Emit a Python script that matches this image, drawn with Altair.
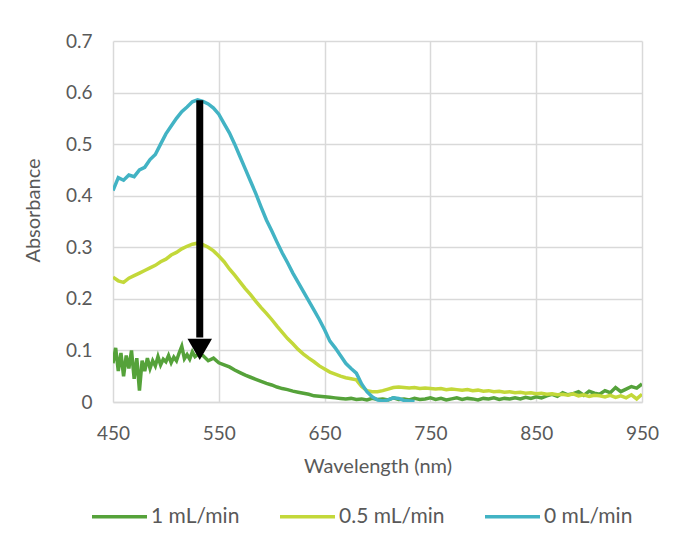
import altair as alt
import pandas as pd

# ---------------- data ----------------
series_names = ["1 mL/min", "0.5 mL/min", "0 mL/min"]
series_colors = ["#55a23a", "#c3d83a", "#42b3c4"]

wavelength = list(range(450, 955, 5))

abs_0 = [
    0.410, 0.435, 0.430, 0.440, 0.437, 0.450, 0.455, 0.470, 0.480, 0.500,
    0.520, 0.535, 0.550, 0.563, 0.572, 0.582, 0.586, 0.583, 0.578, 0.570,
    0.558, 0.540, 0.522, 0.500, 0.476, 0.452, 0.428, 0.404, 0.378, 0.353,
    0.332, 0.310, 0.289, 0.270, 0.250, 0.232, 0.214, 0.196, 0.178, 0.160,
    0.140, 0.118, 0.105, 0.090, 0.075, 0.065, 0.056, 0.035, 0.020, 0.010,
    0.004, 0.002, 0.004, 0.008, 0.007, 0.003, 0.002, 0.001, None, None,
    None, None, None, None, None, None, None, None, None, None,
    None, None, None, None, None, None, None, None, None, None,
    None, None, None, None, None, None, None, None, None, None,
    None, None, None, None, None, None, None, None, None, None,
    None,
]

abs_05 = [
    0.242, 0.235, 0.232, 0.240, 0.245, 0.250, 0.255, 0.260, 0.265, 0.272,
    0.277, 0.285, 0.290, 0.297, 0.302, 0.306, 0.308, 0.305, 0.300, 0.293,
    0.283, 0.272, 0.258, 0.246, 0.233, 0.220, 0.208, 0.195, 0.183, 0.172,
    0.160, 0.147, 0.135, 0.123, 0.113, 0.102, 0.093, 0.085, 0.078, 0.070,
    0.064, 0.058, 0.054, 0.050, 0.047, 0.045, 0.043, 0.030, 0.022, 0.020,
    0.020, 0.022, 0.025, 0.028, 0.029, 0.028, 0.027, 0.028, 0.026, 0.027,
    0.026, 0.025, 0.026, 0.024, 0.025, 0.024, 0.023, 0.024, 0.022, 0.023,
    0.021, 0.022, 0.020, 0.021, 0.019, 0.020, 0.018, 0.019, 0.017, 0.018,
    0.016, 0.017, 0.015, 0.016, 0.014, 0.015, 0.013, 0.016, 0.012, 0.014,
    0.011, 0.013, 0.012, 0.010, 0.013, 0.009, 0.012, 0.008, 0.014, 0.006,
    0.015,
]

# 1 mL/min: denser readings over the noisy 450-530 nm part, then every 5 nm
wavelength_1 = [450 + 2.5 * i for i in range(33)] + list(range(535, 955, 5))
abs_1 = [
    0.075, 0.105, 0.060, 0.095, 0.050, 0.090, 0.065, 0.100, 0.045, 0.085,
    0.022, 0.080, 0.060, 0.085, 0.065, 0.080, 0.070, 0.088, 0.072, 0.083,
    0.078, 0.090, 0.076, 0.087, 0.080, 0.095, 0.108, 0.084, 0.092, 0.083,
    0.097, 0.088, 0.092,
    0.090, 0.080, 0.085,
    0.076, 0.072, 0.068, 0.062, 0.057, 0.052, 0.048, 0.044, 0.040, 0.036,
    0.033, 0.029, 0.026, 0.024, 0.021, 0.019, 0.017, 0.015, 0.012, 0.011,
    0.010, 0.009, 0.008, 0.007, 0.006, 0.007, 0.005, 0.006, 0.004, 0.007,
    0.005, 0.006, 0.004, 0.008, 0.005, 0.006, 0.004, 0.007, 0.005, 0.006,
    0.008, 0.005, 0.007, 0.004, 0.006, 0.008, 0.005, 0.007, 0.006, 0.004,
    0.007, 0.006, 0.008, 0.005, 0.007, 0.006, 0.008, 0.006, 0.009, 0.007,
    0.010, 0.008, 0.012, 0.015, 0.011, 0.018, 0.014, 0.016, 0.020, 0.013,
    0.021, 0.017, 0.015, 0.022, 0.018, 0.028, 0.020, 0.025, 0.030, 0.027,
    0.035,
]

# arrow (from the peak of the 0 mL/min curve down to the 1 mL/min curve)
arrow_x = [532]
arrow_top = [0.585]
arrow_bottom = [0.125]
arrow_head = [0.102]

x_ticks = [450, 550, 650, 750, 850, 950]
y_ticks = [0, 0.1, 0.2, 0.3, 0.4, 0.5, 0.6, 0.7]

# ---------------- build table ----------------
rows = []
for name, wl, vals, order in [
    ("1 mL/min", wavelength_1, abs_1, 0),
    ("0.5 mL/min", wavelength, abs_05, 1),
    ("0 mL/min", wavelength, abs_0, 2),
]:
    for w, v in zip(wl, vals):
        if v is not None:
            rows.append({"wavelength": w, "absorbance": v, "series": name, "ord": order})
df = pd.DataFrame(rows)

arrow_df = pd.DataFrame({"x": arrow_x, "y": arrow_top, "y2": arrow_bottom, "yh": arrow_head})

FONT = "Lato"
GREY = "#595959"
GRID = "#d9d9d9"

x_enc = alt.X(
    "wavelength:Q",
    scale=alt.Scale(domain=[450, 950], nice=False, zero=False),
    axis=alt.Axis(
        values=x_ticks, title="Wavelength (nm)", grid=True, gridColor=GRID, gridWidth=1.5,
        domain=True, domainColor=GRID, domainWidth=1.5, ticks=False, labelFlush=False,
        labelFont=FONT, labelFontSize=19, labelColor=GREY, labelPadding=22,
        titleFont=FONT, titleFontSize=20, titleColor=GREY, titleFontWeight="normal",
        titlePadding=13,
    ),
)
y_enc = alt.Y(
    "absorbance:Q",
    scale=alt.Scale(domain=[0, 0.7], nice=False),
    axis=alt.Axis(
        values=y_ticks, title="Absorbance", grid=True, gridColor=GRID, gridWidth=1.5,
        domain=False, ticks=False,
        labelExpr="datum.value == 0 ? '0' : format(datum.value, '.1f')",
        labelFont=FONT, labelFontSize=19, labelColor=GREY, labelPadding=21,
        titleFont=FONT, titleFontSize=20, titleColor=GREY, titleFontWeight="normal",
        titleX=-70, titleY=169,
    ),
)

lines = alt.Chart(df).mark_line(strokeWidth=3.5, clip=True).encode(
    x=x_enc,
    y=y_enc,
    color=alt.Color(
        "series:N",
        scale=alt.Scale(domain=series_names, range=series_colors),
        legend=alt.Legend(
            title=None, orient="none", direction="horizontal",
            legendX=-23, legendY=446,
            symbolType="stroke", symbolSize=3025, symbolStrokeWidth=3.5,
            labelFont=FONT, labelFontSize=21, labelColor=GREY, labelOffset=2,
            columnPadding=33,
        ),
    ),
    order=alt.Order("ord:Q"),
    detail="series:N",
)

shaft = alt.Chart(arrow_df).mark_rule(color="black", strokeWidth=7).encode(
    x="x:Q", y="y:Q", y2="y2:Q"
)
head = alt.Chart(arrow_df).mark_point(
    shape="triangle-down", filled=True, color="black", size=600, opacity=1
).encode(x="x:Q", y="yh:Q")

chart = alt.layer(lines, shaft, head).properties(
    width=529, height=361,
    autosize=alt.AutoSizeParams(type="none"),
    padding={"left": 105, "top": 33, "right": 30, "bottom": 135},
).configure_view(stroke=None)

chart.save("out.html", embed_options={"renderer": "svg", "actions": False})
